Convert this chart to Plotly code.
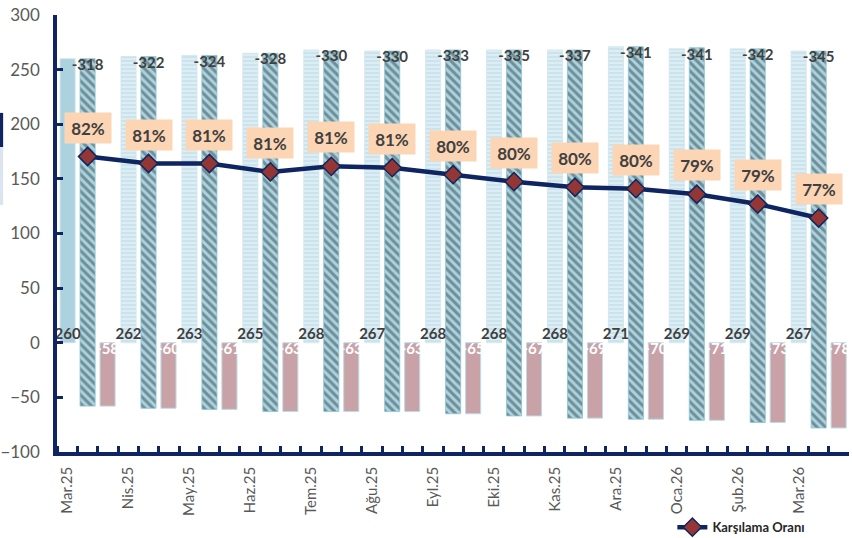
import plotly.graph_objects as go

months = ["Mar.25", "Nis.25", "May.25", "Haz.25", "Tem.25", "Ağu.25", "Eyl.25",
          "Eki.25", "Kas.25", "Ara.25", "Oca.26", "Şub.26", "Mar.26"]
exports = [260, 262, 263, 265, 268, 267, 268, 268, 268, 271, 269, 269, 267]
imports = [318, 322, 324, 328, 330, 330, 333, 335, 337, 341, 341, 342, 345]
balance = [-58, -60, -61, -63, -63, -63, -65, -67, -69, -70, -71, -73, -78]
coverage = [81.8, 81.3, 81.3, 80.7, 81.1, 81.0, 80.5, 80.0, 79.6, 79.5, 79.1, 78.4, 77.4]
coverage_lbl = [82, 81, 81, 81, 81, 81, 80, 80, 80, 80, 79, 79, 77]

NAVY = "#0E2561"
GREY = "#595959"
FONT = "Lato"
W = 0.248  # bar width in category units
OFF = [0.05, 0.378, 0.706]  # left edge of each bar inside a month
idx = list(range(len(months)))

fig = go.Figure()

# exports, horizontal stripes
fig.add_trace(go.Bar(
    x=idx, y=exports, width=W, offset=OFF[0],
    marker=dict(color="#ADD2DF", line=dict(color="#CFE6EE", width=0.8),
                pattern=dict(shape=[""] + ["-"] * (len(idx) - 1), bgcolor="#DCEDF3",
                             fgcolor="#B8D9E5", size=4, solidity=0.5)),
    showlegend=False, hoverinfo="skip"))

# imports, floating from the balance up to exports
fig.add_trace(go.Bar(
    x=idx, y=imports, base=balance, width=W, offset=OFF[1],
    marker=dict(color="#275A7C", line=dict(color="#8CC4D6", width=0.8),
                pattern=dict(shape="\\", bgcolor="#A6D4E2", size=6, solidity=0.5)),
    showlegend=False, hoverinfo="skip"))

# balance
fig.add_trace(go.Bar(
    x=idx, y=balance, width=W, offset=OFF[2],
    marker=dict(color="#C9A2A7", line=dict(color="#BCDCE8", width=1)),
    showlegend=False, hoverinfo="skip"))

lab_font = dict(family=FONT, size=15, color="#404040", weight="bold")
fig.add_trace(go.Scatter(
    x=[i + OFF[0] + W / 2 for i in idx], y=[0] * len(idx), mode="text",
    text=[str(v) for v in exports], textposition="top center",
    textfont=lab_font, showlegend=False, hoverinfo="skip"))
fig.add_trace(go.Scatter(
    x=[i + OFF[1] + W / 2 for i in idx], y=exports, mode="text",
    text=[str(-v) for v in imports], textposition="bottom center",
    textfont=lab_font, showlegend=False, hoverinfo="skip"))
fig.add_trace(go.Scatter(
    x=[i + OFF[2] + W / 2 for i in idx], y=[0] * len(idx), mode="text",
    text=[str(v) for v in balance], textposition="bottom center",
    textfont=dict(family=FONT, size=15, color="white", weight="bold"),
    showlegend=False, hoverinfo="skip"))

line_x = [i + OFF[1] + W / 2 for i in idx]
fig.add_trace(go.Scatter(
    x=line_x, y=coverage, yaxis="y2", name="Karşılama Oranı",
    mode="lines+markers",
    line=dict(color=NAVY, width=4.5),
    marker=dict(symbol="diamond", size=14, color="#943634", line=dict(color=NAVY, width=1.5)),
    hoverinfo="skip"))

for x, y, t in zip(line_x, coverage, coverage_lbl):
    fig.add_annotation(x=x, y=y, xref="x", yref="y2", yshift=29, text=f"{t}%",
                       showarrow=False, bgcolor="#FCD5B4", width=44, height=28,
                       font=dict(family=FONT, size=17, color="#404040", weight="bold"))

fig.update_layout(
    width=852, height=538,
    margin=dict(l=57, r=3, t=15, b=86),
    paper_bgcolor="white", plot_bgcolor="white",
    barmode="overlay",
    font=dict(family=FONT, color=GREY),
    xaxis=dict(range=[0, 13], tickvals=[i + OFF[0] + W / 2 for i in idx], ticktext=months,
               tickangle=-90, ticks="", showgrid=False, zeroline=False, automargin=False,
               showline=True, linecolor=NAVY, linewidth=3.5,
               tickfont=dict(family=FONT, size=15, color=GREY), ticklabelstandoff=5,
               minor=dict(tick0=0.337, dtick=1 / 3, ticks="inside", ticklen=6,
                          tickwidth=2.5, tickcolor=NAVY, showgrid=False)),
    yaxis=dict(range=[-100, 300], tickvals=list(range(-100, 301, 50)),
               ticks="inside", ticklen=6, tickwidth=3, tickcolor=NAVY,
               showgrid=False, zeroline=False, showline=True, automargin=False,
               linecolor=NAVY, linewidth=3.5,
               tickfont=dict(family=FONT, size=17, color=GREY), ticklabelstandoff=10),
    yaxis2=dict(overlaying="y", range=[60.67, 91.92], visible=False),
    legend=dict(x=0.777, y=0.02, yref="container", xanchor="left", yanchor="middle",
                font=dict(family=FONT, size=13, color="#262626", weight="bold"),
                bgcolor="rgba(0,0,0,0)", itemwidth=30),
    shapes=[
        dict(type="rect", xref="paper", yref="paper", x0=-0.072, x1=-0.068,
             y0=0.698, y1=0.776, fillcolor=NAVY, line_width=0),
        dict(type="rect", xref="paper", yref="paper", x0=-0.072, x1=-0.068,
             y0=0.565, y1=0.698, fillcolor="#DBE5F1", line_width=0),
    ],
)

fig.write_html("out.html", config={"displayModeBar": False},
               post_script="document.body.style.margin='0';")
